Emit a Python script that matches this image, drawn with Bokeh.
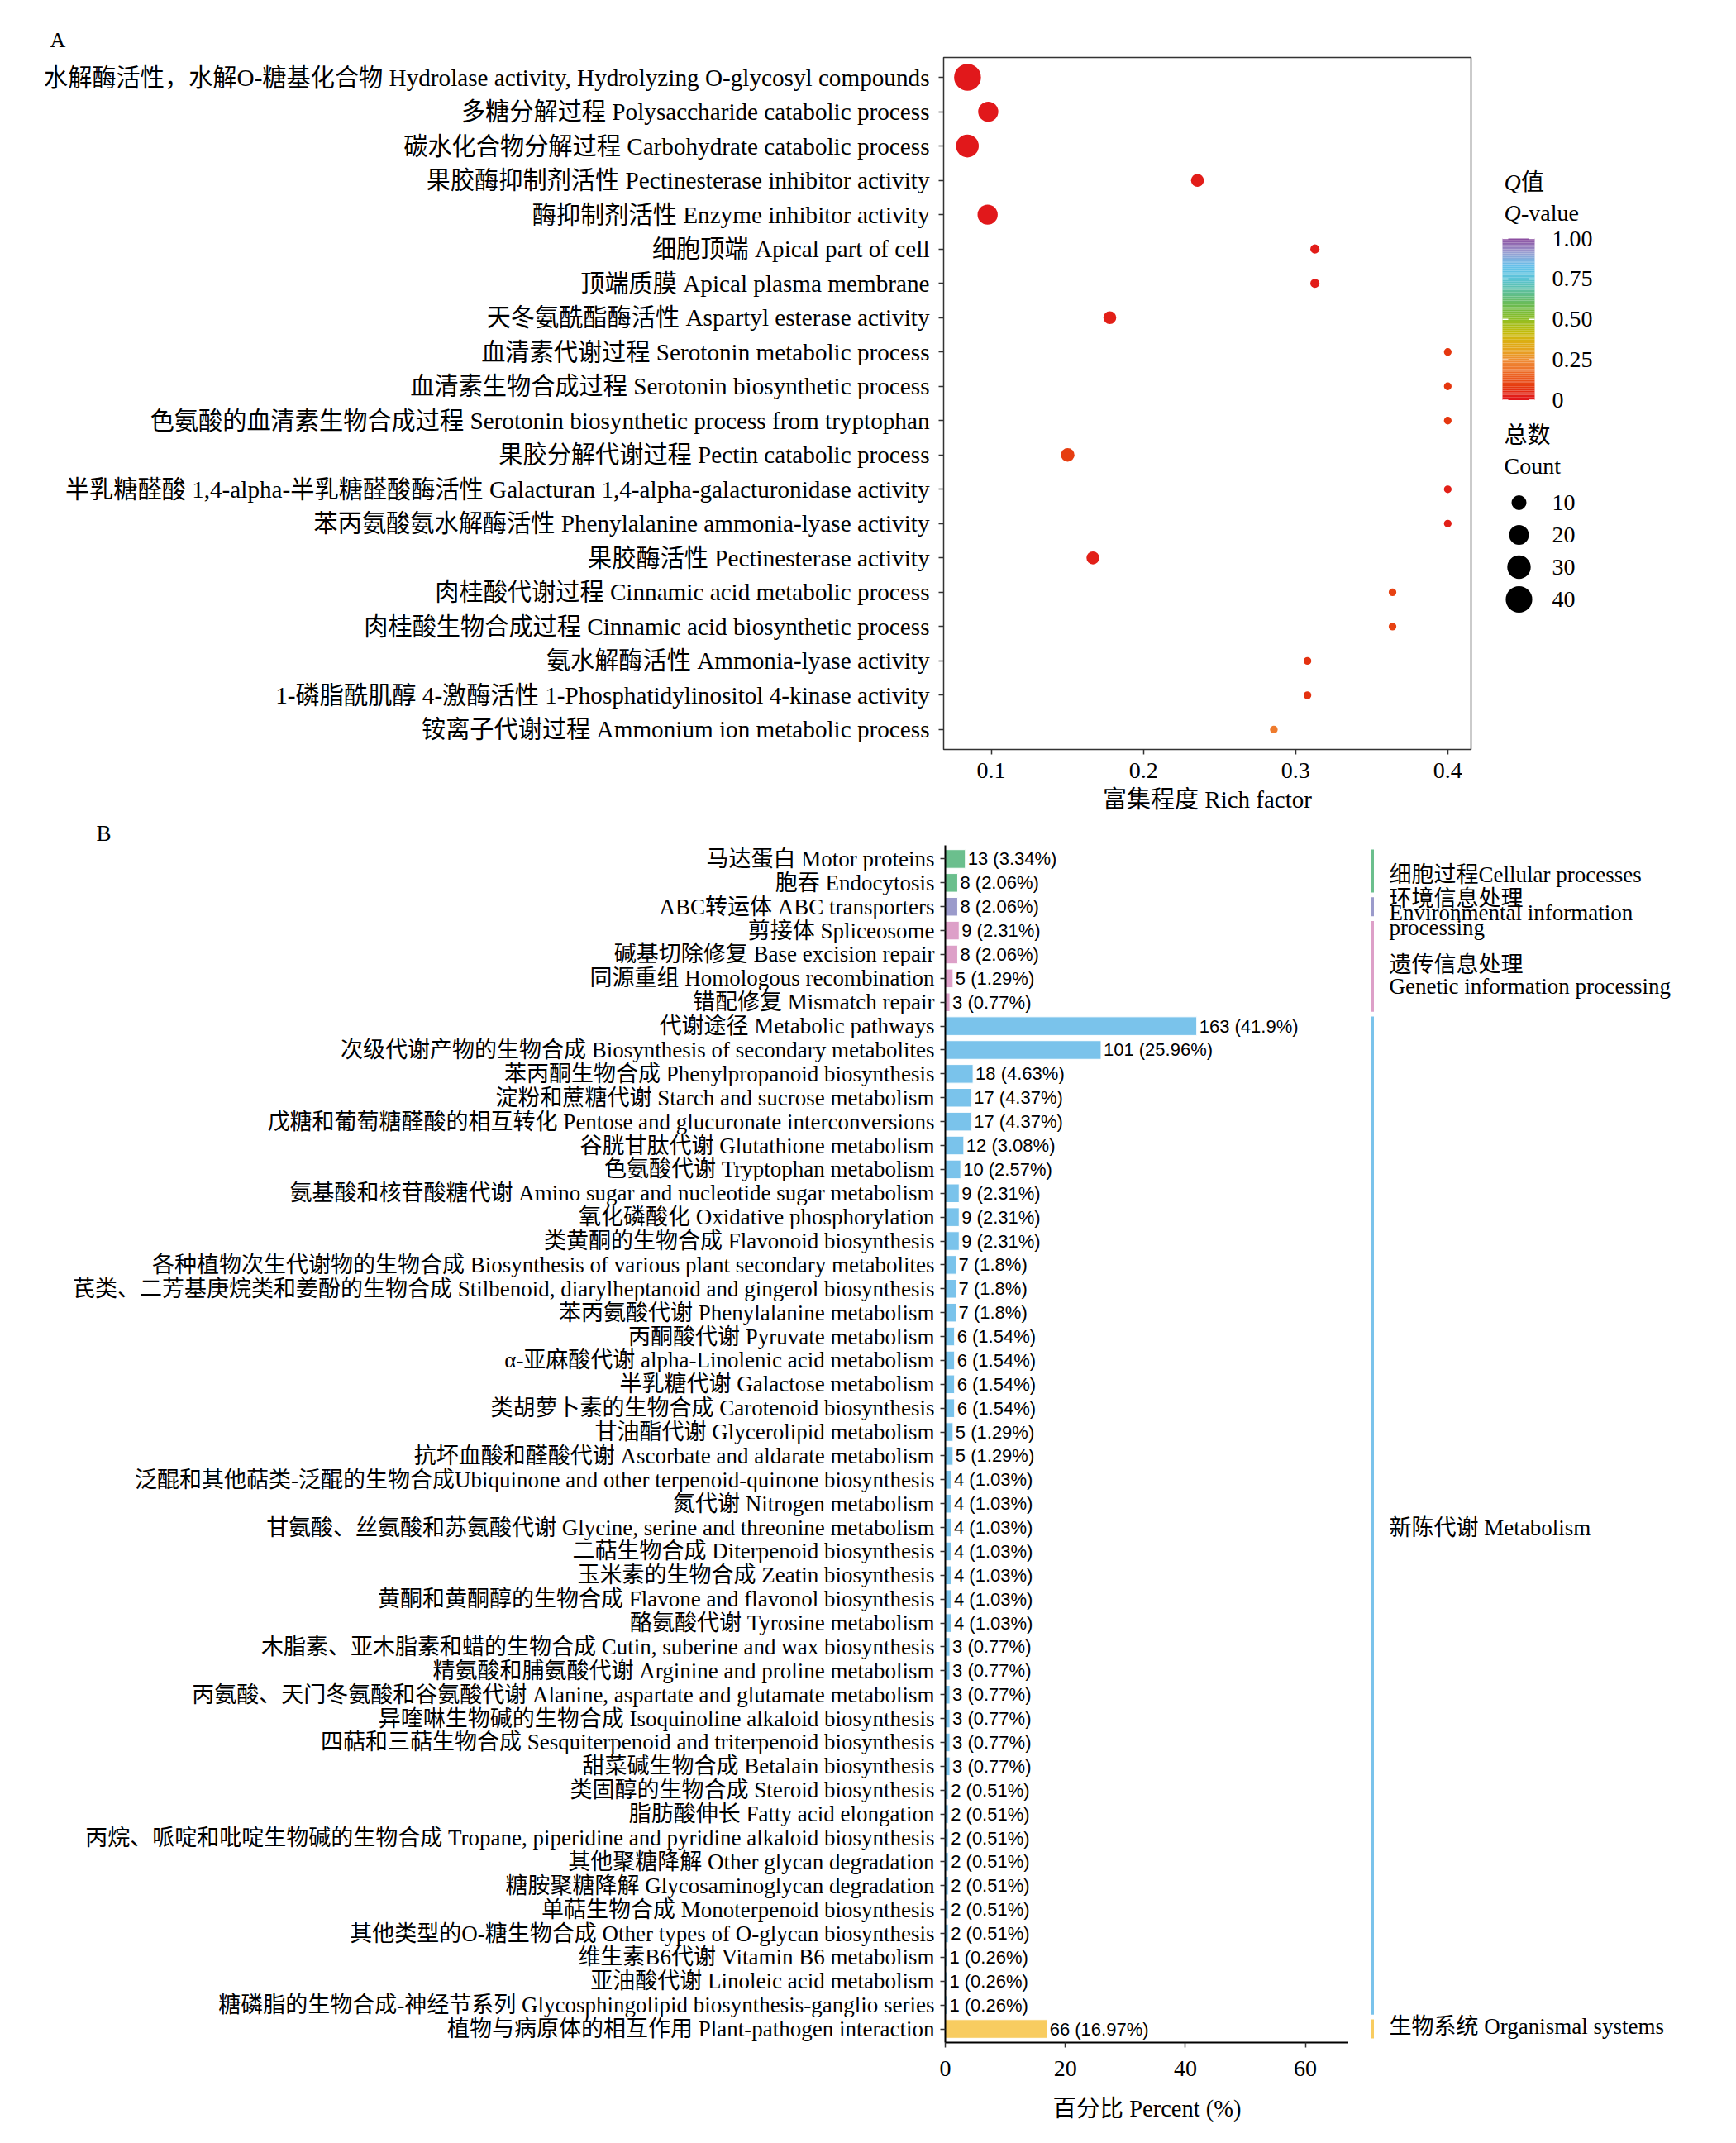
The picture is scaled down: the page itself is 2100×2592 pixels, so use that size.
import math
from bokeh.plotting import figure
from bokeh.models import (FactorRange, Range1d, FixedTicker, LinearColorMapper,
                          ColumnDataSource, Title)
from bokeh.layouts import column, row
from bokeh.embed import file_html
from bokeh.resources import INLINE
from bokeh.core.properties import value
from bokeh.transform import transform

SERIF = "'Liberation Serif', 'Noto Sans CJK SC'"
SANS = "'Liberation Sans', 'Noto Sans CJK SC'"

# ---------------- Panel A data (GO enrichment) ----------------
go_terms = [
    "水解酶活性，水解O-糖基化合物 Hydrolase activity, Hydrolyzing O-glycosyl compounds",
    "多糖分解过程 Polysaccharide catabolic process",
    "碳水化合物分解过程 Carbohydrate catabolic process",
    "果胶酶抑制剂活性 Pectinesterase inhibitor activity",
    "酶抑制剂活性 Enzyme inhibitor activity",
    "细胞顶端 Apical part of cell",
    "顶端质膜 Apical plasma membrane",
    "天冬氨酰酯酶活性 Aspartyl esterase activity",
    "血清素代谢过程 Serotonin metabolic process",
    "血清素生物合成过程 Serotonin biosynthetic process",
    "色氨酸的血清素生物合成过程 Serotonin biosynthetic process from tryptophan",
    "果胶分解代谢过程 Pectin catabolic process",
    "半乳糖醛酸 1,4-alpha-半乳糖醛酸酶活性 Galacturan 1,4-alpha-galacturonidase activity",
    "苯丙氨酸氨水解酶活性 Phenylalanine ammonia-lyase activity",
    "果胶酶活性 Pectinesterase activity",
    "肉桂酸代谢过程 Cinnamic acid metabolic process",
    "肉桂酸生物合成过程 Cinnamic acid biosynthetic process",
    "氨水解酶活性 Ammonia-lyase activity",
    "1-磷脂酰肌醇 4-激酶活性 1-Phosphatidylinositol 4-kinase activity",
    "铵离子代谢过程 Ammonium ion metabolic process",
]
rich_factor = [0.0844, 0.098, 0.0843, 0.2355, 0.0976, 0.3127, 0.3127, 0.1779, 0.4, 0.4,
               0.4, 0.1502, 0.4, 0.4, 0.1668, 0.3637, 0.3637, 0.3078, 0.3078, 0.2857]
go_count = [41, 21, 28, 7, 21, 3, 3, 7, 2, 2, 2, 8, 2, 2, 7, 2, 2, 2, 2, 2]
go_qvalue = [0.01, 0.01, 0.01, 0.02, 0.01, 0.02, 0.02, 0.03, 0.08, 0.08,
             0.08, 0.09, 0.03, 0.03, 0.03, 0.10, 0.10, 0.07, 0.07, 0.21]
rich_ticks = [0.1, 0.2, 0.3, 0.4]
q_breaks = [0.0, 0.25, 0.5, 0.75, 1.0]
q_break_labels = ["0", "0.25", "0.50", "0.75", "1.00"]
count_breaks = [10, 20, 30, 40]

# ---------------- Panel B data (KEGG classification) ----------------
kegg_terms = [
    "马达蛋白 Motor proteins",
    "胞吞 Endocytosis",
    "ABC转运体 ABC transporters",
    "剪接体 Spliceosome",
    "碱基切除修复 Base excision repair",
    "同源重组 Homologous recombination",
    "错配修复 Mismatch repair",
    "代谢途径 Metabolic pathways",
    "次级代谢产物的生物合成 Biosynthesis of secondary metabolites",
    "苯丙酮生物合成 Phenylpropanoid biosynthesis",
    "淀粉和蔗糖代谢 Starch and sucrose metabolism",
    "戊糖和葡萄糖醛酸的相互转化 Pentose and glucuronate interconversions",
    "谷胱甘肽代谢 Glutathione metabolism",
    "色氨酸代谢 Tryptophan metabolism",
    "氨基酸和核苷酸糖代谢 Amino sugar and nucleotide sugar metabolism",
    "氧化磷酸化 Oxidative phosphorylation",
    "类黄酮的生物合成 Flavonoid biosynthesis",
    "各种植物次生代谢物的生物合成 Biosynthesis of various plant secondary metabolites",
    "芪类、二芳基庚烷类和姜酚的生物合成 Stilbenoid, diarylheptanoid and gingerol biosynthesis",
    "苯丙氨酸代谢 Phenylalanine metabolism",
    "丙酮酸代谢 Pyruvate metabolism",
    "α-亚麻酸代谢 alpha-Linolenic acid metabolism",
    "半乳糖代谢 Galactose metabolism",
    "类胡萝卜素的生物合成 Carotenoid biosynthesis",
    "甘油酯代谢 Glycerolipid metabolism",
    "抗坏血酸和醛酸代谢 Ascorbate and aldarate metabolism",
    "泛醌和其他萜类-泛醌的生物合成Ubiquinone and other terpenoid-quinone biosynthesis",
    "氮代谢 Nitrogen metabolism",
    "甘氨酸、丝氨酸和苏氨酸代谢 Glycine, serine and threonine metabolism",
    "二萜生物合成 Diterpenoid biosynthesis",
    "玉米素的生物合成 Zeatin biosynthesis",
    "黄酮和黄酮醇的生物合成 Flavone and flavonol biosynthesis",
    "酪氨酸代谢 Tyrosine metabolism",
    "木脂素、亚木脂素和蜡的生物合成 Cutin, suberine and wax biosynthesis",
    "精氨酸和脯氨酸代谢 Arginine and proline metabolism",
    "丙氨酸、天门冬氨酸和谷氨酸代谢 Alanine, aspartate and glutamate metabolism",
    "异喹啉生物碱的生物合成 Isoquinoline alkaloid biosynthesis",
    "四萜和三萜生物合成 Sesquiterpenoid and triterpenoid biosynthesis",
    "甜菜碱生物合成 Betalain biosynthesis",
    "类固醇的生物合成 Steroid biosynthesis",
    "脂肪酸伸长 Fatty acid elongation",
    "丙烷、哌啶和吡啶生物碱的生物合成 Tropane, piperidine and pyridine alkaloid biosynthesis",
    "其他聚糖降解 Other glycan degradation",
    "糖胺聚糖降解 Glycosaminoglycan degradation",
    "单萜生物合成 Monoterpenoid biosynthesis",
    "其他类型的O-糖生物合成 Other types of O-glycan biosynthesis",
    "维生素B6代谢 Vitamin B6 metabolism",
    "亚油酸代谢 Linoleic acid metabolism",
    "糖磷脂的生物合成-神经节系列 Glycosphingolipid biosynthesis-ganglio series",
    "植物与病原体的相互作用 Plant-pathogen interaction",
]
kegg_count = [13, 8, 8, 9, 8, 5, 3, 163, 101, 18, 17, 17, 12, 10, 9, 9, 9, 7, 7, 7,
              6, 6, 6, 6, 5, 5, 4, 4, 4, 4, 4, 4, 4, 3, 3, 3, 3, 3, 3, 2,
              2, 2, 2, 2, 2, 2, 1, 1, 1, 66]
kegg_percent = [3.34, 2.06, 2.06, 2.31, 2.06, 1.29, 0.77, 41.9, 25.96, 4.63, 4.37, 4.37, 3.08, 2.57,
                2.31, 2.31, 2.31, 1.8, 1.8, 1.8, 1.54, 1.54, 1.54, 1.54, 1.29, 1.29, 1.03, 1.03,
                1.03, 1.03, 1.03, 1.03, 1.03, 0.77, 0.77, 0.77, 0.77, 0.77, 0.77, 0.51, 0.51,
                0.51, 0.51, 0.51, 0.51, 0.51, 0.26, 0.26, 0.26, 16.97]
kegg_group = ["CP", "CP", "EIP", "GIP", "GIP", "GIP", "GIP",
              "M", "M", "M", "M", "M", "M", "M", "M", "M", "M", "M", "M", "M",
              "M", "M", "M", "M", "M", "M", "M", "M", "M", "M", "M", "M", "M",
              "M", "M", "M", "M", "M", "M", "M", "M", "M", "M", "M", "M", "M",
              "M", "M", "M", "OS"]
group_order = ["CP", "EIP", "GIP", "M", "OS"]
percent_ticks = [0, 20, 40, 60]

# ---------------- styles ----------------
group_color = {"CP": "#6BBF8D", "EIP": "#9B9BCB", "GIP": "#DDA0C8", "M": "#7AC3EB", "OS": "#F8CC60"}
# label lines: (text, pixel nudge down from the group's centre)
group_text = {
    "CP": [("细胞过程Cellular processes", 5)],
    "EIP": [("环境信息处理", -10), ("Environmental information", 7), ("processing", 25)],
    "GIP": [("遗传信息处理", -2), ("Genetic information processing", 24)],
    "M": [("新陈代谢 Metabolism", 15)],
    "OS": [("生物系统 Organismal systems", -3)],
}

q_stops = [0.0, 0.08, 0.15, 0.24, 0.30, 0.36, 0.42, 0.50, 0.58, 0.66, 0.75, 0.83, 0.92, 1.0]
q_stop_colors = ["#E1141C", "#E5380F", "#EC6020", "#EF8A35", "#E7A020", "#DDAE12", "#C4BC0A",
                 "#8FBE22", "#6DBB4A", "#5FBE8E", "#5BC4D6", "#66C1EA", "#9C9DD0", "#8A4A9E"]


def _hex(c):
    c = c.lstrip("#")
    return [int(c[i:i + 2], 16) for i in (0, 2, 4)]


def build_palette(n=256):
    out = []
    for k in range(n):
        t = k / (n - 1)
        j = 0
        while j < len(q_stops) - 2 and t > q_stops[j + 1]:
            j += 1
        f = (t - q_stops[j]) / (q_stops[j + 1] - q_stops[j])
        a, b = _hex(q_stop_colors[j]), _hex(q_stop_colors[j + 1])
        rgb = [round(a[i] + (b[i] - a[i]) * f) for i in range(3)]
        out.append("#%02X%02X%02X" % tuple(rgb))
    return out


palette = build_palette()
mapper = LinearColorMapper(palette=palette, low=0, high=1)


def dot_size(c):
    # area-like size scale (diameter in px)
    return 4.95 + 4.35 * math.sqrt(max(c - 1, 0))


# ---------------- Panel A figure ----------------
A_LEFT, A_TOP, A_FW, A_FH, A_BOT = 1141, 69, 638, 837, 83
XA0, XA1 = 0.0687, 0.4153
yA = list(reversed(go_terms))
pA = figure(frame_width=A_FW, frame_height=A_FH, width=A_LEFT + A_FW + 10, height=A_TOP + A_FH + A_BOT,
            x_range=Range1d(XA0, XA1),
            y_range=FactorRange(factors=yA, range_padding=0.008),
            min_border_left=A_LEFT, min_border_right=10, min_border_top=A_TOP, min_border_bottom=A_BOT,
            output_backend="svg", toolbar_location=None, title=None)
srcA = ColumnDataSource(dict(term=go_terms, rf=rich_factor, q=go_qvalue,
                             size=[dot_size(c) for c in go_count]))
pA.scatter(x="rf", y="term", size="size", source=srcA,
           fill_color=transform("q", mapper), line_color=None)
pA.grid.grid_line_color = None
pA.outline_line_color = "#333333"
pA.outline_line_width = 1.5
for ax in (pA.xaxis[0], pA.yaxis[0]):
    ax.axis_line_color = None
    ax.major_tick_line_color = "#333333"
    ax.major_tick_line_width = 1.5
    ax.major_tick_out = 6
    ax.major_tick_in = 0
    ax.minor_tick_line_color = None
    ax.major_label_text_font = SERIF
    ax.major_label_text_color = "black"
pA.xaxis.ticker = FixedTicker(ticks=rich_ticks)
pA.xaxis.major_label_text_font_size = "28px"
pA.xaxis.major_label_standoff = 10
pA.xaxis.axis_label = "富集程度 Rich factor"
pA.xaxis.axis_label_text_font = SERIF
pA.xaxis.axis_label_text_font_size = "29px"
pA.xaxis.axis_label_text_font_style = "normal"
pA.xaxis.axis_label_text_color = "black"
pA.xaxis.axis_label_standoff = 7
pA.yaxis.major_label_text_font_size = "29.2px"
pA.yaxis.major_label_standoff = 11
# panel tag "A"
pA.add_layout(Title(text="A", align="left", offset=60 - A_LEFT, standoff=14,
                    text_font=SERIF, text_font_size="26px", text_font_style="normal",
                    text_color="black"), "above")

# ---------------- Panel A legend (frame aligned with panel A frame; page pixel coords) ----------------
pL = figure(width=303, height=A_TOP + A_FH + A_BOT, x_range=Range1d(0, 303),
            y_range=Range1d(A_TOP + A_FH, A_TOP),
            min_border_left=0, min_border_right=0, min_border_top=A_TOP, min_border_bottom=A_BOT,
            x_axis_location=None, y_axis_location=None,
            output_backend="svg", toolbar_location=None, title=None)
pL.grid.grid_line_color = None
pL.outline_line_color = None
LEG_FONT = "28px"
q_w = 0.722 * 28.3
pL.text(x=[30, 30], y=[220, 256.5], text=["Q", "Q"], text_font=value(SERIF), text_font_size=LEG_FONT,
        text_font_style="italic", text_baseline="middle")
pL.text(x=[30 + q_w, 30 + q_w], y=[220, 256.5], text=["值", "-value"], text_font=value(SERIF),
        text_font_size=LEG_FONT, text_baseline="middle")
cb_left, cb_right, cb_top, cb_bottom = 28, 67, 288, 483.5
nb = 120
band_b = [cb_bottom - (cb_bottom - cb_top) * k / nb for k in range(nb)]
band_t = [cb_bottom - (cb_bottom - cb_top) * (k + 1) / nb for k in range(nb)]
band_q = [(k + 0.5) / nb for k in range(nb)]
pL.quad(left=cb_left, right=cb_right, bottom="b", top="t",
        fill_color=transform("q", mapper), line_color=None,
        source=ColumnDataSource(dict(b=band_b, t=band_t, q=band_q)))
brk_y = [cb_bottom - (cb_bottom - cb_top) * q for q in q_breaks]
pL.segment(x0=[cb_left] * 5, x1=[cb_left + 7] * 5, y0=brk_y, y1=brk_y, line_color="white", line_width=1.5)
pL.segment(x0=[cb_right - 7] * 5, x1=[cb_right] * 5, y0=brk_y, y1=brk_y, line_color="white", line_width=1.5)
pL.text(x=[88] * 5, y=brk_y, text=q_break_labels, text_font=value(SERIF), text_font_size=LEG_FONT,
        text_baseline="middle")
pL.text(x=[30, 30], y=[526, 563], text=["总数", "Count"], text_font=value(SERIF),
        text_font_size=LEG_FONT, text_baseline="middle")
leg_y = [607.5 + 39 * i for i in range(len(count_breaks))]
pL.scatter(x=[48] * len(count_breaks), y=leg_y, size=[dot_size(c) for c in count_breaks],
           fill_color="black", line_color=None)
pL.text(x=[88] * len(count_breaks), y=leg_y, text=[str(c) for c in count_breaks],
        text_font=value(SERIF), text_font_size=LEG_FONT, text_baseline="middle")

# ---------------- Panel B figure ----------------
B_PAGE_TOP = A_TOP + A_FH + A_BOT          # 989
B_LEFT, B_FTOP, B_FH, B_FW = 1143, 1022, 1448, 488
B_TOTAL_H = 2584 - B_PAGE_TOP
B_MB_TOP = B_FTOP - B_PAGE_TOP
B_MB_BOT = B_TOTAL_H - B_MB_TOP - B_FH
PX_PER_PCT = 7.26
NB_UNITS = 50.14
spacing = B_FH / NB_UNITS
yB = list(reversed(kegg_terms))
pB = figure(frame_width=B_FW, frame_height=B_FH, width=B_LEFT + B_FW, height=B_TOTAL_H,
            x_range=Range1d(0, B_FW / PX_PER_PCT),
            y_range=FactorRange(factors=yB, range_padding=0.0028),
            min_border_left=B_LEFT, min_border_right=0, min_border_top=B_MB_TOP,
            min_border_bottom=B_MB_BOT,
            output_backend="svg", toolbar_location=None, title=None)
pB.grid.grid_line_color = None
pB.outline_line_color = None
labelsB = ["%d (%s%%)" % (c, repr(p)) for c, p in zip(kegg_count, kegg_percent)]
srcB = ColumnDataSource(dict(term=kegg_terms, pct=kegg_percent, lbl=labelsB,
                             color=[group_color[g] for g in kegg_group]))
pB.hbar(y="term", left=0, right="pct", height=0.78, fill_color="color",
        line_color="white", line_width=1, source=srcB)
pB.text(x="pct", y="term", text="lbl", x_offset=3, text_align="left", text_baseline="middle",
        text_font=value(SANS), text_font_size="22px", text_color="black", source=srcB)

xa, ya = pB.xaxis[0], pB.yaxis[0]
for ax in (xa, ya):
    ax.axis_line_color = "black"
    ax.axis_line_width = 2
    ax.major_tick_line_color = "#333333"
    ax.major_tick_line_width = 1.5
    ax.major_tick_out = 6
    ax.major_tick_in = 0
    ax.minor_tick_line_color = None
    ax.major_label_text_font = SERIF
    ax.major_label_text_color = "black"
xa.ticker = FixedTicker(ticks=percent_ticks)
xa.major_label_text_font_size = "28px"
xa.major_label_standoff = 16
xa.axis_label = "百分比 Percent (%)"
xa.axis_label_text_font = SERIF
xa.axis_label_text_font_size = "28.5px"
xa.axis_label_text_font_style = "normal"
xa.axis_label_text_color = "black"
xa.axis_label_standoff = 21
ya.major_label_text_font_size = "27px"
ya.major_label_standoff = 7
# panel tag "B"
pB.add_layout(Title(text="B", align="left", offset=116 - B_LEFT, standoff=0,
                    text_font=SERIF, text_font_size="27px", text_font_style="normal",
                    text_color="black"), "above")

# ---------------- Panel B group brackets (shares panel B categories) ----------------
pG = figure(width=2092 - (B_LEFT + B_FW), height=B_TOTAL_H,
            x_range=Range1d(B_LEFT + B_FW, 2092), y_range=pB.y_range,
            min_border_left=0, min_border_right=0, min_border_top=B_MB_TOP, min_border_bottom=B_MB_BOT,
            x_axis_location=None, y_axis_location=None,
            output_backend="svg", toolbar_location=None, title=None)
pG.grid.grid_line_color = None
pG.outline_line_color = None
br_x, lab_x = 1660, 1680
bx0, bx1, by0, by1, bcol = [], [], [], [], []
tx, ty, tt = [], [], []
for g in group_order:
    members = [t for t, gg in zip(kegg_terms, kegg_group) if gg == g]
    centers = [yB.index(t) + 0.5 for t in members]
    top, bot = max(centers) + 0.4, min(centers) - 0.4
    bx0.append(br_x); bx1.append(br_x); by0.append(top); by1.append(bot)
    bcol.append(group_color[g])
    mid = (max(centers) + min(centers)) / 2
    for text, nudge in group_text[g]:
        tx.append(lab_x); ty.append(mid - nudge / spacing); tt.append(text)
pG.segment(x0=bx0, x1=bx1, y0=by0, y1=by1, line_color=bcol, line_width=3)
pG.text(x=tx, y=ty, text=tt, text_font=value(SERIF), text_font_size="27px",
        text_baseline="middle", text_align="left", text_color="black")

layout = column(row(pA, pL, spacing=0), row(pB, pG, spacing=0), spacing=0)
open("out.html", "w").write(file_html(layout, INLINE))
